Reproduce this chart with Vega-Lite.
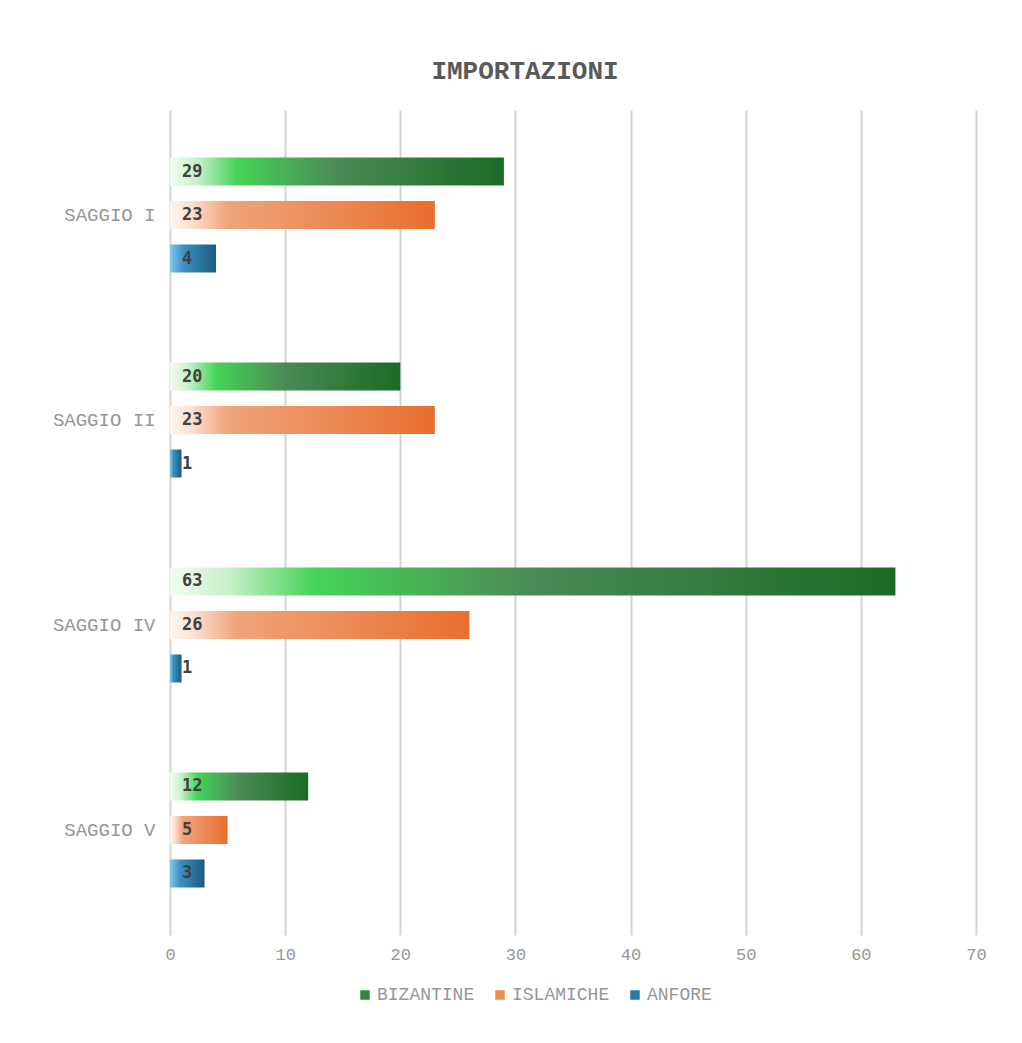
{
  "$schema": "https://vega.github.io/schema/vega-lite/v6.json",
  "width": 806,
  "height": 825,
  "autosize": {"type": "none"},
  "padding": {"left": 170, "top": 110, "right": 46, "bottom": 108},
  "background": "white",
  "title": {
    "text": "IMPORTAZIONI",
    "font": "Liberation Mono",
    "fontWeight": "bold",
    "fontSize": 26,
    "color": "#595959",
    "anchor": "middle",
    "dx": -48,
    "offset": 26
  },
  "data": {
    "values": [
      {"saggio": "SAGGIO I", "tipo": "BIZANTINE", "n": 29},
      {"saggio": "SAGGIO I", "tipo": "ISLAMICHE", "n": 23},
      {"saggio": "SAGGIO I", "tipo": "ANFORE", "n": 4},
      {"saggio": "SAGGIO II", "tipo": "BIZANTINE", "n": 20},
      {"saggio": "SAGGIO II", "tipo": "ISLAMICHE", "n": 23},
      {"saggio": "SAGGIO II", "tipo": "ANFORE", "n": 1},
      {"saggio": "SAGGIO IV", "tipo": "BIZANTINE", "n": 63},
      {"saggio": "SAGGIO IV", "tipo": "ISLAMICHE", "n": 26},
      {"saggio": "SAGGIO IV", "tipo": "ANFORE", "n": 1},
      {"saggio": "SAGGIO V", "tipo": "BIZANTINE", "n": 12},
      {"saggio": "SAGGIO V", "tipo": "ISLAMICHE", "n": 5},
      {"saggio": "SAGGIO V", "tipo": "ANFORE", "n": 3}
    ]
  },
  "encoding": {
    "y": {
      "field": "saggio",
      "type": "nominal",
      "sort": ["SAGGIO I", "SAGGIO II", "SAGGIO IV", "SAGGIO V"],
      "scale": {"paddingInner": 0.3634, "paddingOuter": 0.194},
      "axis": {
        "title": null,
        "domain": false,
        "ticks": false,
        "labelPadding": 15,
        "labelFont": "Liberation Mono",
        "labelFontSize": 19,
        "labelColor": "#969696"
      }
    },
    "yOffset": {
      "field": "tipo",
      "type": "nominal",
      "sort": ["BIZANTINE", "ISLAMICHE", "ANFORE"],
      "scale": {"paddingInner": 0.356, "paddingOuter": 0.178}
    }
  },
  "layer": [
    {
      "transform": [{"filter": "datum.tipo === 'BIZANTINE'"}],
      "mark": {
        "type": "bar",
        "fill": {
          "gradient": "linear",
          "x1": 0, "y1": 0, "x2": 1, "y2": 0,
          "stops": [
            {"offset": 0, "color": "#f4fcf4"},
            {"offset": 0.08, "color": "#c8f0cb"},
            {"offset": 0.2, "color": "#45d457"},
            {"offset": 0.5, "color": "#4b8a56"},
            {"offset": 1, "color": "#1a6b25"}
          ]
        }
      },
      "encoding": {
        "x": {
          "field": "n",
          "type": "quantitative",
          "scale": {"domain": [0, 70], "nice": false},
          "axis": {
            "title": null,
            "values": [0, 10, 20, 30, 40, 50, 60, 70],
            "domain": false,
            "ticks": false,
            "grid": true,
            "gridColor": "#d4d4d4",
            "gridWidth": 2,
            "labelFlush": false,
            "labelPadding": 11,
            "labelFont": "Liberation Mono",
            "labelFontSize": 17,
            "labelColor": "#969696"
          }
        }
      }
    },
    {
      "transform": [{"filter": "datum.tipo === 'ISLAMICHE'"}],
      "mark": {
        "type": "bar",
        "fill": {
          "gradient": "linear",
          "x1": 0, "y1": 0, "x2": 1, "y2": 0,
          "stops": [
            {"offset": 0, "color": "#fef6f0"},
            {"offset": 0.08, "color": "#fbe0d0"},
            {"offset": 0.22, "color": "#f0a47a"},
            {"offset": 0.6, "color": "#ec8a55"},
            {"offset": 1, "color": "#e86e2e"}
          ]
        }
      },
      "encoding": {
        "x": {"field": "n", "type": "quantitative"}
      }
    },
    {
      "transform": [{"filter": "datum.tipo === 'ANFORE'"}],
      "mark": {
        "type": "bar",
        "fill": {
          "gradient": "linear",
          "x1": 0, "y1": 0, "x2": 1, "y2": 0,
          "stops": [
            {"offset": 0, "color": "#7fc8ee"},
            {"offset": 0.3, "color": "#3c8fc0"},
            {"offset": 1, "color": "#1c5a7e"}
          ]
        }
      },
      "encoding": {
        "x": {"field": "n", "type": "quantitative"}
      }
    },
    {
      "mark": {"type": "bar"},
      "encoding": {
        "x": {"datum": 0, "type": "quantitative"},
        "x2": {"datum": 0},
        "color": {
          "field": "tipo",
          "type": "nominal",
          "sort": ["BIZANTINE", "ISLAMICHE", "ANFORE"],
          "scale": {"domain": ["BIZANTINE", "ISLAMICHE", "ANFORE"], "range": ["#2e8a3a", "#f08a4e", "#2c78a6"]},
          "legend": {
            "title": null,
            "orient": "none",
            "legendX": 186,
            "legendY": 876,
            "padding": 0,
            "direction": "horizontal",
            "symbolType": "square",
            "symbolSize": 90,
            "labelFont": "Liberation Mono",
            "labelFontSize": 18,
            "labelColor": "#969696",
            "labelOffset": 3,
            "columnPadding": 16
          }
        }
      }
    },
    {
      "mark": {
        "type": "text",
        "align": "left",
        "baseline": "middle",
        "dx": 12,
        "font": "DejaVu Sans Mono",
        "fontWeight": "bold",
        "fontSize": 17,
        "color": "#404040"
      },
      "encoding": {
        "x": {"datum": 0, "type": "quantitative"},
        "text": {"field": "n", "type": "quantitative"}
      }
    }
  ],
  "config": {
    "view": {"stroke": null}
  }
}
